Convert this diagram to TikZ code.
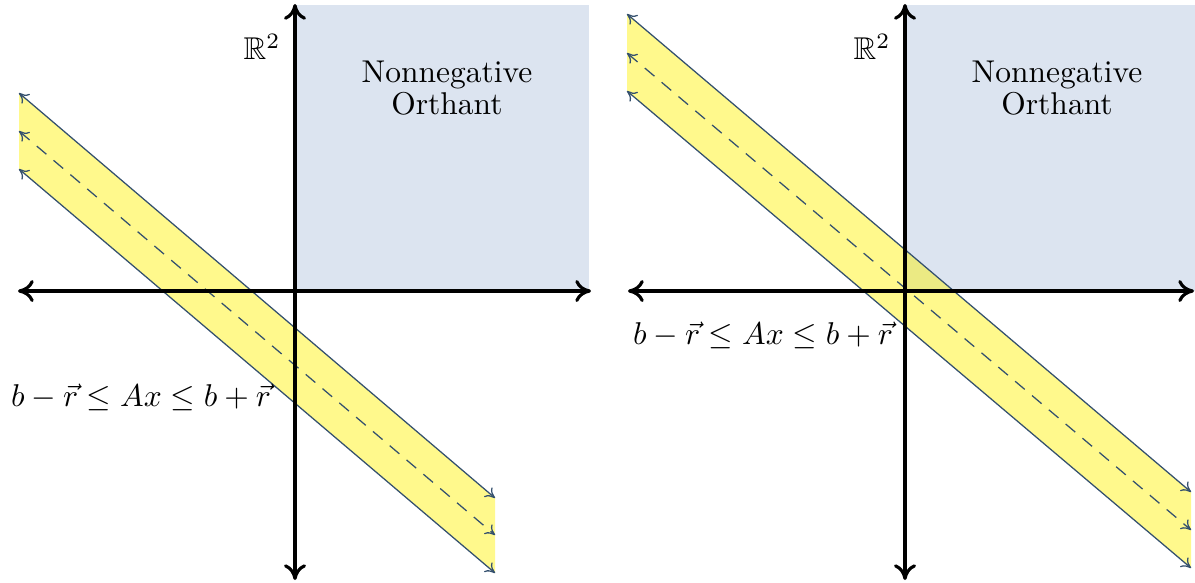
\documentclass[tikz,border=0pt]{standalone}
\usepackage{amssymb}
\usetikzlibrary{arrows.meta}
\definecolor{orthant}{HTML}{DCE4F0}
\definecolor{bandline}{HTML}{34506E}
\tikzset{
  axis/.style={line width=1pt, {To[length=5pt,width=7pt]}-{To[length=5pt,width=7pt]}},
  bandfill/.style={fill=yellow, fill opacity=0.45, draw=none},
  bandedge/.style={draw=bandline, line width=0.4pt, {To[length=3pt,width=4pt]}-{To[length=3pt,width=4pt]}},
  bandmid/.style={bandedge, dash pattern=on 4pt off 3pt},
  lbl/.style={font=\normalsize, inner sep=0pt}
}
\begin{document}
\begin{tikzpicture}[x=0.3175pt, y=-0.3175pt]
\useasboundingbox (0,0) rectangle (1195,582);
% ---------- left panel ----------
\fill[orthant] (295,5) rectangle (589,291);
\coordinate (LTa) at (19,93);  \coordinate (LTb) at (495,498);
\coordinate (LMa) at (19,131); \coordinate (LMb) at (495,535);
\coordinate (LBa) at (19,169); \coordinate (LBb) at (495,573);
\path[bandfill] (LTa) -- (LTb) -- (LBb) -- (LBa) -- cycle;
\draw[bandedge] (LTa) -- (LTb);
\draw[bandmid] (LMa) -- (LMb);
\draw[bandedge] (LBa) -- (LBb);
\coordinate (LXa) at (18,291); \coordinate (LXb) at (591,291);
\coordinate (LYa) at (295,580); \coordinate (LYb) at (295,4);
\draw[axis] (LXa) -- (LXb);
\draw[axis] (LYa) -- (LYb);
\node[lbl] (LR) at (262,47) {$\mathbb{R}^2$};
\node[lbl, align=center] (LO) at (447,88) {Nonnegative\\[-2pt]Orthant};
\node[lbl] (LC) at (141,397) {$b-\vec{r}\leq Ax\leq b+\vec{r}$};
% ---------- right panel ----------
\fill[orthant] (905,5) rectangle (1195,291);
\coordinate (RTa) at (627,14);  \coordinate (RTb) at (1191,492);
\coordinate (RMa) at (627,53);  \coordinate (RMb) at (1191,530);
\coordinate (RBa) at (627,91);  \coordinate (RBb) at (1191,568);
\path[bandfill] (RTa) -- (RTb) -- (RBb) -- (RBa) -- cycle;
\draw[bandedge] (RTa) -- (RTb);
\draw[bandmid] (RMa) -- (RMb);
\draw[bandedge] (RBa) -- (RBb);
\coordinate (RXa) at (628,291); \coordinate (RXb) at (1194,291);
\coordinate (RYa) at (905,580); \coordinate (RYb) at (905,4);
\draw[axis] (RXa) -- (RXb);
\draw[axis] (RYa) -- (RYb);
\node[lbl] (RR) at (872,47) {$\mathbb{R}^2$};
\node[lbl, align=center] (RO) at (1057,88) {Nonnegative\\[-2pt]Orthant};
\node[lbl] (RC) at (763,335) {$b-\vec{r}\leq Ax\leq b+\vec{r}$};
\end{tikzpicture}
\end{document}
